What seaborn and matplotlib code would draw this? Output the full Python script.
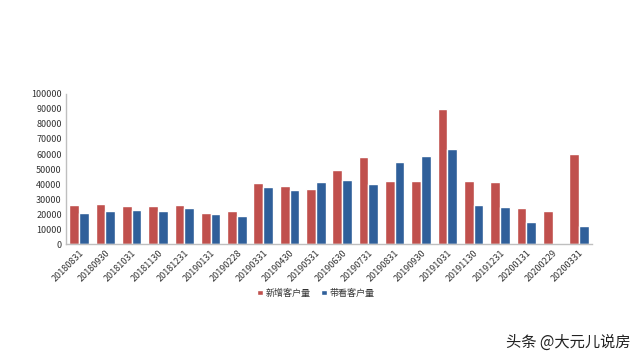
import matplotlib
matplotlib.use("Agg")
import matplotlib.pyplot as plt
import seaborn as sns
import pandas as pd

dates = ["20180831", "20180930", "20181031", "20181130", "20181231", "20190131",
         "20190228", "20190331", "20190430", "20190531", "20190630", "20190731",
         "20190831", "20190930", "20191031", "20191130", "20191231", "20200131",
         "20200229", "20200331"]
new_customers = [26100, 26500, 25400, 25400, 25900, 20800, 22100, 40700, 38500, 36500,
                 49600, 58200, 42300, 41800, 89800, 42000, 41400, 24100, 22300, 60000]
visit_customers = [20800, 21900, 23000, 22300, 24100, 19900, 18400, 37800, 36100, 41600,
                   42500, 39800, 54600, 58600, 63500, 26100, 24600, 15000, 0, 12200]
series_names = ["新增客户量", "带看客户量"]

df = pd.DataFrame({
    "date": dates * 2,
    "value": new_customers + visit_customers,
    "series": [series_names[0]] * len(dates) + [series_names[1]] * len(dates),
})

sns.set_theme(style="white")
plt.rcParams['font.family'] = ['Noto Sans CJK SC', 'DejaVu Sans']

fig = plt.figure(figsize=(6.4, 3.6), dpi=100)
ax = fig.add_axes([0.103, 0.322, 0.822, 0.417])

sns.barplot(data=df, x="date", y="value", hue="series", order=dates,
            hue_order=series_names, palette=["#C0504D", "#2F5F9A"],
            width=0.74, saturation=1, ax=ax, legend=True)

ax.set_ylim(0, 100000)
ax.set_yticks(range(0, 100001, 10000))
ax.set_yticklabels([str(v) for v in range(0, 100001, 10000)], fontsize=6.5, color="#333333")
ax.set_xticks(range(len(dates)))
ax.set_xticklabels(dates, rotation=45, ha="right", rotation_mode="anchor",
                   fontsize=6.5, color="#333333")
ax.set_xlim(-0.5, len(dates) - 0.5)
ax.set_xlabel("")
ax.set_ylabel("")
ax.tick_params(axis="both", length=0, pad=3)
for s in ["top", "right"]:
    ax.spines[s].set_visible(False)
for s in ["left", "bottom"]:
    ax.spines[s].set_color("#BFBFBF")
    ax.spines[s].set_linewidth(1.0)

leg = ax.legend(loc="center", bbox_to_anchor=(316 / 640, 1 - 293 / 360),
                bbox_transform=fig.transFigure, ncol=2, frameon=False,
                fontsize=6.5, handlelength=0.6, handleheight=0.6,
                handletextpad=0.3, columnspacing=1.2)
for t in leg.get_texts():
    t.set_color("#333333")

fig.text(0.985, 1 - 342 / 360, "头条 @大元儿说房", ha="right", va="center",
         fontsize=11, color="#222222")

fig.savefig("out.png", dpi=100)
